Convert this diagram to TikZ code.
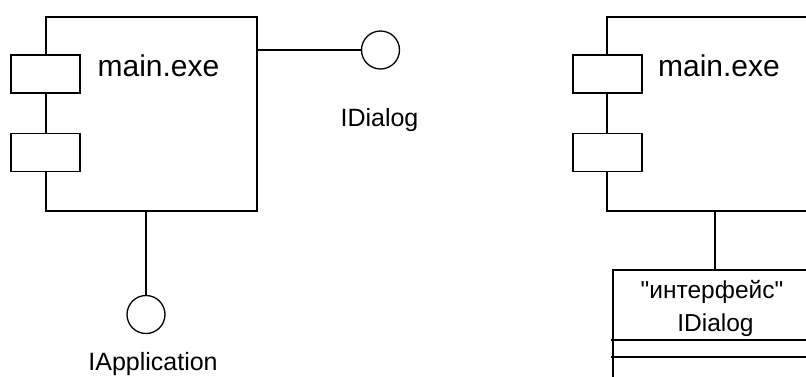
\documentclass[tikz,border=0pt]{standalone}
\usepackage{fontspec}
\setmainfont{Liberation Sans}
\begin{document}
\begin{tikzpicture}[x=1pt,y=-1pt,
  ln/.style={line width=1.8pt, line cap=rect},
  comp/.style={draw, line width=1.8pt, inner sep=0pt, fill=white},
  port/.style={draw, line width=1.8pt, inner sep=0pt, fill=white, minimum width=69pt, minimum height=38pt},
  iface/.style={draw, circle, line width=1.3pt, inner sep=0pt, minimum size=38pt},
  big/.style={inner sep=0pt, anchor=base, font=\fontsize{30}{36}\selectfont},
  lbl/.style={inner sep=0pt, anchor=base, font=\fontsize{25}{30}\selectfont},
  boxlbl/.style={inner sep=0pt, anchor=base, font=\fontsize{24.5}{30}\selectfont}]
\clip (0,0) rectangle (806,376);
\fill[white] (0,0) rectangle (806,376);
% left component
\node[comp, minimum width=211pt, minimum height=194pt] (compA) at (151.5,114) {};
\node[port] (pA1) at (45.5,74) {};
\node[port] (pA2) at (45.5,152.5) {};
\node[big] (tA) at (158.5,76) {main.exe};
\node[iface] (iDlg) at (380.5,50) {};
\node[lbl] (tDlg) at (379.5,126) {IDialog};
\node[iface] (iApp) at (146,314.5) {};
\node[lbl] (tApp) at (153,370.5) {IApplication};
\draw[ln] (compA.east |- iDlg.west) -- (iDlg.west);
\draw[ln] (iApp.north |- compA.south) -- (iApp.north);
% right component
\node[comp, minimum width=223pt, minimum height=194pt] (compB) at (718.5,114) {};
\node[port] (pB1) at (607.5,74) {};
\node[port] (pB2) at (607.5,152.5) {};
\node[big] (tB) at (719,76) {main.exe};
\node[comp, minimum width=204pt, minimum height=130pt] (ifB) at (715,335) {};
\draw[ln] (ifB.west |- 0,340) -- (ifB.east |- 0,340);
\draw[ln] (ifB.west |- 0,357) -- (ifB.east |- 0,357);
\node[boxlbl] (tI1) at (712,298) {\textquotedbl интерфейс\textquotedbl};
\node[boxlbl] (tI2) at (715.5,331) {IDialog};
\draw[ln] (ifB.north |- compB.south) -- (ifB.north);
\end{tikzpicture}
\end{document}
